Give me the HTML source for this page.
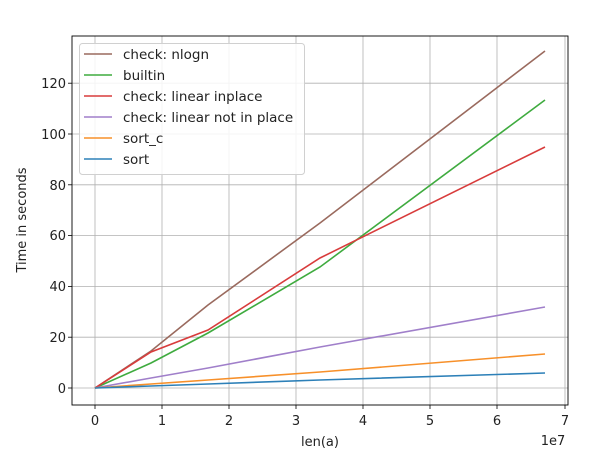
<!DOCTYPE html><html><head><style>body{margin:0;background:#fff}svg{font-family:"DejaVu Sans","Liberation Sans",sans-serif}</style></head><body>
<svg width="605" height="456" xmlns="http://www.w3.org/2000/svg">
<rect width="605" height="456" fill="#fff"/>
<g stroke="#b0b0b0" stroke-width="0.8">
<line x1="95" y1="36" x2="95" y2="405"/><line x1="162" y1="36" x2="162" y2="405"/><line x1="229" y1="36" x2="229" y2="405"/><line x1="296" y1="36" x2="296" y2="405"/><line x1="363" y1="36" x2="363" y2="405"/><line x1="430" y1="36" x2="430" y2="405"/><line x1="497" y1="36" x2="497" y2="405"/><line x1="565" y1="36" x2="565" y2="405"/>
<line x1="72" y1="388" x2="568" y2="388"/><line x1="72" y1="337.2" x2="568" y2="337.2"/><line x1="72" y1="286.4" x2="568" y2="286.4"/><line x1="72" y1="235.6" x2="568" y2="235.6"/><line x1="72" y1="184.8" x2="568" y2="184.8"/><line x1="72" y1="134" x2="568" y2="134"/><line x1="72" y1="83.2" x2="568" y2="83.2"/>
</g>
<g fill="none" stroke-width="1.6">
<polyline stroke="#9a6a5e" points="95,388 151,351 208,305 320,223 545,51"/>
<polyline stroke="#3fab3f" points="95,388 151,363 208,333 320,267 545,100"/>
<polyline stroke="#d83c3c" points="95,388 151,352 208,330 320,258 545,147"/>
<polyline stroke="#a07fca" points="95,388 151,378 208,368 320,347 545,307"/>
<polyline stroke="#f7902a" points="95,388 151,384 208,380 320,372 545,354"/>
<polyline stroke="#2d80b8" points="95,388 151,386 208,384 320,380 545,373"/>
</g>
<rect x="72" y="36" width="496" height="369" fill="none" stroke="#000" stroke-width="0.9"/>
<g stroke="#000" stroke-width="0.8">
<line x1="95" y1="405" x2="95" y2="409"/><line x1="162" y1="405" x2="162" y2="409"/><line x1="229" y1="405" x2="229" y2="409"/><line x1="296" y1="405" x2="296" y2="409"/><line x1="363" y1="405" x2="363" y2="409"/><line x1="430" y1="405" x2="430" y2="409"/><line x1="497" y1="405" x2="497" y2="409"/><line x1="565" y1="405" x2="565" y2="409"/>
<line x1="68" y1="388" x2="72" y2="388"/><line x1="68" y1="337.2" x2="72" y2="337.2"/><line x1="68" y1="286.4" x2="72" y2="286.4"/><line x1="68" y1="235.6" x2="72" y2="235.6"/><line x1="68" y1="184.8" x2="72" y2="184.8"/><line x1="68" y1="134" x2="72" y2="134"/><line x1="68" y1="83.2" x2="72" y2="83.2"/>
</g>
<g font-size="13" fill="#222" text-anchor="middle">
<text x="95" y="425">0</text><text x="162" y="425">1</text><text x="229" y="425">2</text><text x="296" y="425">3</text><text x="363" y="425">4</text><text x="430" y="425">5</text><text x="497" y="425">6</text><text x="565" y="425">7</text>
<text x="320" y="446">len(a)</text><text x="553" y="445">1e7</text>
</g>
<g font-size="13" fill="#222" text-anchor="end">
<text x="66" y="393">0</text><text x="66" y="342">20</text><text x="66" y="291">40</text><text x="66" y="240">60</text><text x="66" y="190">80</text><text x="66" y="139">100</text><text x="66" y="88">120</text>
</g>
<text x="26" y="220" font-size="13" fill="#222" text-anchor="middle" transform="rotate(-90 26 220)">Time in seconds</text>
<rect x="79.5" y="43.5" width="225" height="131" rx="3" fill="#fff" fill-opacity="0.85" stroke="#d0d0d0"/>
<g stroke-width="1.6">
<line x1="84" y1="54" x2="112" y2="54" stroke="#9a6a5e"/><line x1="84" y1="75" x2="112" y2="75" stroke="#3fab3f"/><line x1="84" y1="96" x2="112" y2="96" stroke="#d83c3c"/><line x1="84" y1="117" x2="112" y2="117" stroke="#a07fca"/><line x1="84" y1="138" x2="112" y2="138" stroke="#f7902a"/><line x1="84" y1="159" x2="112" y2="159" stroke="#2d80b8"/>
</g>
<g font-size="13.5" fill="#222">
<text x="123" y="59">check: nlogn</text><text x="123" y="80">builtin</text><text x="123" y="101">check: linear inplace</text><text x="123" y="122">check: linear not in place</text><text x="123" y="143">sort_c</text><text x="123" y="164">sort</text>
</g>
</svg></body></html>
